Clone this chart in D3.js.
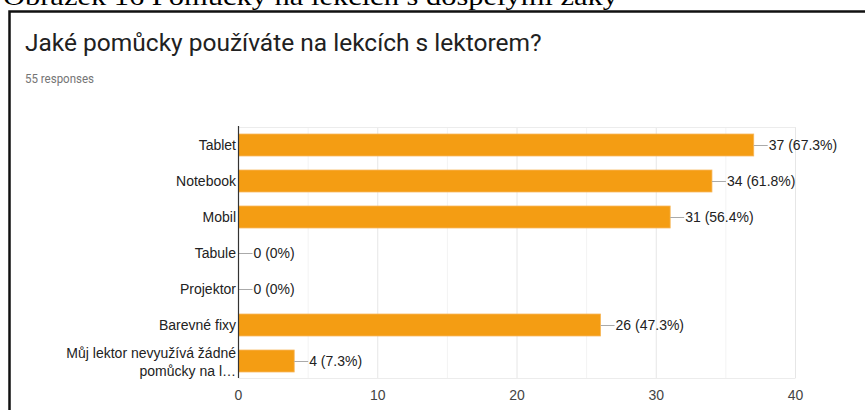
<!DOCTYPE html>
<html>
<head>
<meta charset="utf-8">
<script src="https://d3js.org/d3.v7.min.js"></script>
<style>
body { margin: 0; background: #fff; }
svg { display: block; }
</style>
</head>
<body>
<svg width="865" height="410"></svg>
<script>
var categories = ["Tablet", "Notebook", "Mobil", "Tabule", "Projektor", "Barevné fixy", "Můj lektor nevyužívá žádné pomůcky na l…"];
var counts = [37, 34, 31, 0, 0, 26, 4];
var percents = ["67.3%", "61.8%", "56.4%", "0%", "0%", "47.3%", "7.3%"];
var xTicks = [0, 10, 20, 30, 40];
var minorTicks = [5, 15, 25, 35];

var svg = d3.select("svg");
var font = "Arial, 'Liberation Sans', sans-serif";

// caption of the page above, cut off by the crop
svg.append("text")
	.attr("x", 3).attr("y", 5)
	.attr("font-family", "'Liberation Serif', 'Times New Roman', serif")
	.attr("font-size", 26)
	.attr("fill", "#000")
	.attr("textLength", 615)
	.attr("lengthAdjust", "spacingAndGlyphs")
	.text("Obrázek 16 Pomůcky na lekcích s dospělými žáky");

// card border
svg.append("path")
	.attr("d", "M9.5,410 L9.5,11.5 L865,11.5")
	.attr("fill", "none")
	.attr("stroke", "#111")
	.attr("stroke-width", 2.5);

svg.append("text")
	.attr("x", 25).attr("y", 51)
	.attr("font-family", "Roboto, 'Noto Sans', sans-serif")
	.attr("font-size", 24.5)
	.attr("fill", "#212121")
	.text("Jaké pomůcky používáte na lekcích s lektorem?");

svg.append("text")
	.attr("x", 25).attr("y", 83)
	.attr("font-family", "Roboto, 'Noto Sans', sans-serif")
	.attr("font-size", 13)
	.attr("fill", "#757575")
	.attr("textLength", 69)
	.attr("lengthAdjust", "spacingAndGlyphs")
	.text("55 responses");

var x = d3.scaleLinear().domain([0, 40]).range([238.5, 795.5]);
var y = d3.scaleBand().domain(categories).range([127, 379]).paddingInner(0.39).paddingOuter(0.195);

var g = svg.append("g");

// minor grid
g.selectAll("line.minor").data(minorTicks).enter().append("line")
	.attr("x1", function(d) { return x(d); }).attr("x2", function(d) { return x(d); })
	.attr("y1", 127).attr("y2", 378)
	.attr("stroke", "#f3f3f3");

// major grid
g.selectAll("line.major").data(xTicks.slice(1)).enter().append("line")
	.attr("x1", function(d) { return x(d); }).attr("x2", function(d) { return x(d); })
	.attr("y1", 127).attr("y2", 378)
	.attr("stroke", "#e6e6e6");

g.append("line").attr("x1", x(0)).attr("x2", x(40)).attr("y1", 127.5).attr("y2", 127.5).attr("stroke", "#ececec");
g.append("line").attr("x1", x(0)).attr("x2", x(40)).attr("y1", 378.5).attr("y2", 378.5).attr("stroke", "#ececec");

// bars
g.selectAll("rect.bar").data(counts).enter().append("rect")
	.attr("x", x(0))
	.attr("y", function(d, i) { return y(categories[i]); })
	.attr("width", function(d) { return x(d) - x(0); })
	.attr("height", y.bandwidth())
	.attr("fill", "#f49d13")
	.attr("stroke", "#f7b659")
	.attr("stroke-width", 0.8);

// leader lines + value labels
g.selectAll("line.lead").data(counts).enter().append("line")
	.attr("x1", function(d) { return x(d); })
	.attr("x2", function(d) { return x(d) + 14; })
	.attr("y1", function(d, i) { return y(categories[i]) + y.bandwidth() / 2 + 0.5; })
	.attr("y2", function(d, i) { return y(categories[i]) + y.bandwidth() / 2 + 0.5; })
	.attr("stroke", "#aaa");

g.selectAll("text.val").data(counts).enter().append("text")
	.attr("x", function(d) { return x(d) + 15; })
	.attr("y", function(d, i) { return y(categories[i]) + y.bandwidth() / 2 + 5; })
	.attr("font-family", font)
	.attr("font-size", 14)
	.attr("fill", "#222")
	.text(function(d, i) { return d + " (" + percents[i] + ")"; });

// category labels
categories.forEach(function(c, i) {
	var cy = y(c) + y.bandwidth() / 2;
	var t = g.append("text")
		.attr("text-anchor", "end")
		.attr("font-family", font)
		.attr("font-size", 14)
		.attr("fill", "#222");
	if (c.length > 30) {
		t.append("tspan").attr("x", 236).attr("y", cy - 3).text("Můj lektor nevyužívá žádné");
		t.append("tspan").attr("x", 236).attr("y", cy + 15).text("pomůcky na l…");
	} else {
		t.attr("x", 236).attr("y", cy + 5).text(c);
	}
});

// axis line
g.append("line").attr("x1", x(0)).attr("x2", x(0)).attr("y1", 126).attr("y2", 378).attr("stroke", "#333").attr("stroke-width", 1.2);

// tick labels
g.selectAll("text.tick").data(xTicks).enter().append("text")
	.attr("x", function(d) { return x(d); })
	.attr("y", 400)
	.attr("text-anchor", "middle")
	.attr("font-family", font)
	.attr("font-size", 14)
	.attr("fill", "#444")
	.text(function(d) { return d; });
</script>
</body>
</html>
